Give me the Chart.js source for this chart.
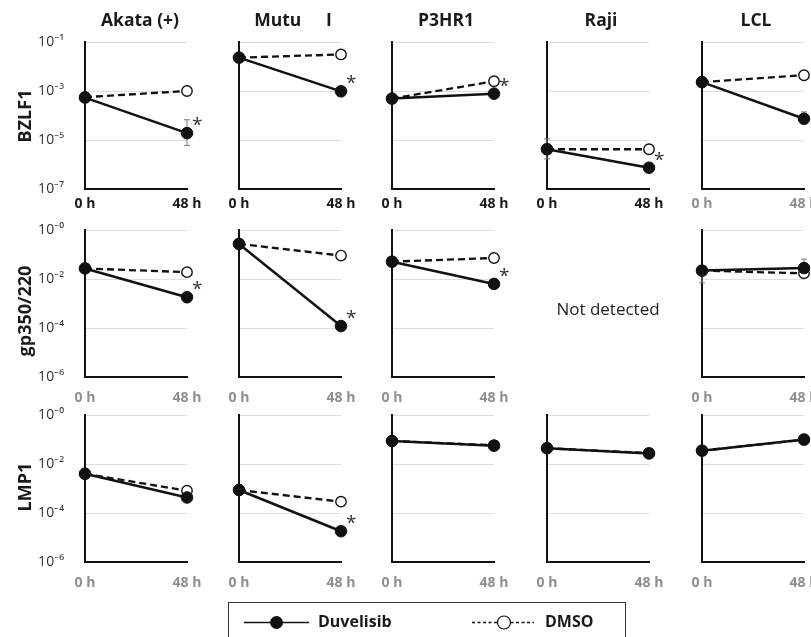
<!DOCTYPE html>
<html>
<head>
<meta charset="utf-8">
<script src="https://cdn.jsdelivr.net/npm/chart.js@4.4.0/dist/chart.umd.min.js"></script>
<style>
  body { margin: 0; width: 811px; height: 637px; overflow: hidden; background: #fff; position: relative;
         font-family: 'Open Sans', 'Noto Sans', sans-serif; color: #1a1a1a; }
  canvas { position: absolute; }
  .title { position: absolute; top: 8px; font-weight: 700; font-size: 17.5px; line-height: 22px;
           transform: translateX(-50%); white-space: nowrap; }
  .rowlab { position: absolute; font-weight: 700; font-size: 18px; line-height: 22px; white-space: nowrap;
            transform: translate(-50%, -50%) rotate(-90deg); }
  .nd { position: absolute; font-size: 17px; transform: translate(-50%, -50%); white-space: nowrap; color: #222; }
  .legend { position: absolute; left: 228px; top: 602px; width: 398px; height: 50px;
            border: 1.5px solid #333; box-sizing: border-box; }
  .legend svg { position: absolute; left: 0; top: 0; }
  .legend span { position: absolute; top: 7px; font-weight: 700; font-size: 16px; line-height: 22px; }
</style>
</head>
<body>
<script>
// panels: columns are cell lines, rows are genes
const cellLines = ['Akata (+)', 'Mutu I', 'P3HR1', 'Raji', 'LCL'];
const genes = ['BZLF1', 'gp350/220', 'LMP1'];
const timeLabels = ['0 h', '48 h'];
const seriesNames = ['Duvelisib', 'DMSO'];

const bzlf1Ticks = [1e-7, 1e-5, 1e-3, 1e-1];
const bzlf1TickLabels = ['10⁻⁷', '10⁻⁵', '10⁻³', '10⁻¹'];
const otherTicks = [1e-6, 1e-4, 1e-2, 1];
const otherTickLabels = ['10⁻⁶', '10⁻⁴', '10⁻²', '10⁻⁰'];

// [0 h, 48 h] per cell line
const bzlf1Duvelisib = [[5.4e-4, 1.9e-5], [2.3e-2, 9.7e-4], [4.9e-4, 7.8e-4], [4.2e-6, 7.4e-7], [2.3e-3, 7.4e-5]];
const bzlf1Dmso      = [[5.6e-4, 1.0e-3], [2.3e-2, 3.1e-2], [4.9e-4, 2.5e-3], [4.2e-6, 4.2e-6], [2.3e-3, 4.4e-3]];
const gp350Duvelisib = [[0.027, 1.8e-3], [0.27, 1.2e-4], [0.051, 6.3e-3], null, [0.022, 0.028]];
const gp350Dmso      = [[0.027, 0.019], [0.27, 0.09], [0.051, 0.072], null, [0.022, 0.017]];
const lmp1Duvelisib  = [[4.0e-3, 4.3e-4], [8.7e-4, 1.8e-5], [0.087, 0.056], [0.044, 0.027], [0.035, 0.10]];
const lmp1Dmso       = [[4.0e-3, 8.1e-4], [8.7e-4, 2.9e-4], [0.087, 0.058], [0.044, 0.028], [0.035, 0.098]];

// error ranges [low, high] per time point, null = none visible
const bzlf1DuvelisibErr = [[null, [6e-6, 6.7e-5]], [null, null], [null, null], [[1.7e-6, 1.1e-5], null], [null, [4.5e-5, 1.4e-4]]];
const gp350DuvelisibErr = [[null, [1.1e-3, 2.7e-3]], [null, null], [null, null], null, [null, [0.02, 0.065]]];
const gp350DmsoErr      = [[null, null], [null, null], [null, null], null, [[0.007, 0.03], null]];

// significance star on the 48 h Duvelisib point
const bzlf1Sig = [true, true, true, true, false];
const gp350Sig = [true, true, true, false, false];
const lmp1Sig  = [false, true, false, false, false];

const rows = [
  { duv: bzlf1Duvelisib, dmso: bzlf1Dmso, duvErr: bzlf1DuvelisibErr, dmsoErr: null, sig: bzlf1Sig, ticks: bzlf1Ticks, tickLabels: bzlf1TickLabels },
  { duv: gp350Duvelisib, dmso: gp350Dmso, duvErr: gp350DuvelisibErr, dmsoErr: gp350DmsoErr, sig: gp350Sig, ticks: otherTicks, tickLabels: otherTickLabels },
  { duv: lmp1Duvelisib, dmso: lmp1Dmso, duvErr: null, dmsoErr: null, sig: lmp1Sig, ticks: otherTicks, tickLabels: otherTickLabels },
];

// layout of the grid
const colAxisX = [85, 239, 392, 547, 702];
const rowTop = [42, 230, 415];
const xLabelPad = [7, 13, 13];
const plotW = 102, plotH = 147;
const padLeft = 60, padTop = 12, padRight = 16, xAxisH = 30;

function makeMarks(duvErr, dmsoErr, sig) {
  return {
    id: 'marks',
    beforeDatasetsDraw(chart) {
      const ctx = chart.ctx, xs = chart.scales.x, ys = chart.scales.y;
      ctx.save();
      ctx.strokeStyle = '#7a7a7a';
      ctx.lineWidth = 1;
      [duvErr, dmsoErr].forEach(errs => {
        if (!errs) return;
        errs.forEach((e, i) => {
          if (!e) return;
          const x = xs.getPixelForValue(i);
          const y1 = ys.getPixelForValue(e[0]), y2 = ys.getPixelForValue(e[1]);
          ctx.beginPath();
          ctx.moveTo(x, y1); ctx.lineTo(x, y2);
          ctx.moveTo(x - 3, y1); ctx.lineTo(x + 3, y1);
          ctx.moveTo(x - 3, y2); ctx.lineTo(x + 3, y2);
          ctx.stroke();
        });
      });
      ctx.restore();
    },
    afterDatasetsDraw(chart) {
      if (!sig) return;
      const ctx = chart.ctx;
      const pt = chart.getDatasetMeta(0).data[1];
      ctx.save();
      ctx.fillStyle = '#333';
      ctx.font = '19px "Open Sans", sans-serif';
      ctx.textAlign = 'left';
      ctx.textBaseline = 'top';
      ctx.fillText('*', pt.x + 5, pt.y - 17);
      ctx.restore();
    }
  };
}

function xTickColor(r, c) {
  return (r === 0 && c < 4) ? '#1a1a1a' : '#8f8f8f';
}

rows.forEach((row, r) => {
  cellLines.forEach((name, c) => {
    if (!row.duv[c]) return;
    const cv = document.createElement('canvas');
    const w = padLeft + plotW + padRight, h = padTop + plotH + xAxisH + 8;
    cv.width = w; cv.height = h;
    cv.style.left = (colAxisX[c] - padLeft) + 'px';
    cv.style.top = (rowTop[r] - padTop) + 'px';
    cv.style.width = w + 'px'; cv.style.height = h + 'px';
    document.body.appendChild(cv);

    new Chart(cv.getContext('2d'), {
      type: 'line',
      data: {
        labels: timeLabels,
        datasets: [
          {
            label: seriesNames[0],
            data: row.duv[c],
            borderColor: '#111',
            borderWidth: 2.5,
            pointRadius: 5.8,
            pointBackgroundColor: '#111',
            pointBorderColor: '#111',
            pointBorderWidth: 1,
            tension: 0,
            clip: false,
            order: 0
          },
          {
            label: seriesNames[1],
            data: row.dmso[c],
            borderColor: '#111',
            borderWidth: 2.3,
            borderDash: [7, 4],
            pointRadius: 5.2,
            pointBackgroundColor: '#fff',
            pointBorderColor: '#111',
            pointBorderWidth: 1.4,
            tension: 0,
            clip: false,
            order: 1
          }
        ]
      },
      plugins: [makeMarks(row.duvErr ? row.duvErr[c] : null, row.dmsoErr ? row.dmsoErr[c] : null, row.sig[c])],
      options: {
        responsive: false,
        animation: false,
        events: [],
        devicePixelRatio: 1,
        layout: { padding: { left: 0, top: padTop, right: padRight, bottom: 8 } },
        plugins: { legend: { display: false }, tooltip: { enabled: false } },
        scales: {
          x: {
            type: 'category',
            offset: false,
            grid: { display: false, drawTicks: false },
            border: { display: true, color: '#111', width: 2 },
            ticks: {
              padding: xLabelPad[r],
              maxRotation: 0,
              autoSkip: false,
              color: xTickColor(r, c),
              font: { family: "'Open Sans', sans-serif", size: 14, weight: 'bold' }
            },
            afterFit: s => { s.height = xAxisH; s.paddingLeft = 0; s.paddingRight = 0; }
          },
          y: {
            type: 'logarithmic',
            min: row.ticks[0],
            max: row.ticks[row.ticks.length - 1],
            grid: { color: '#dedede', lineWidth: 1, drawTicks: false },
            border: { display: true, color: '#111', width: 2 },
            afterBuildTicks: s => { s.ticks = row.ticks.map(v => ({ value: v })); },
            ticks: {
              display: c === 0,
              autoSkip: false,
              padding: 21,
              color: '#333',
              font: { family: "'Open Sans', sans-serif", size: 14 },
              callback: v => row.tickLabels[row.ticks.indexOf(v)]
            },
            afterFit: s => { s.width = padLeft; s.paddingTop = 0; s.paddingBottom = 0; }
          }
        }
      }
    });
  });
});

// column titles
cellLines.forEach((name, c) => {
  const d = document.createElement('div');
  d.className = 'title';
  d.textContent = name;
  d.style.left = (colAxisX[c] + plotW / 2 + (c === 0 ? 4 : 3)) + 'px';
  if (c === 1) d.style.wordSpacing = '20px';
  document.body.appendChild(d);
});

// row labels
const rowLabelY = [116, 311, 487];
genes.forEach((g, r) => {
  const d = document.createElement('div');
  d.className = 'rowlab';
  d.textContent = g;
  d.style.left = '24px';
  d.style.top = rowLabelY[r] + 'px';
  document.body.appendChild(d);
});

// missing panel
const nd = document.createElement('div');
nd.className = 'nd';
nd.textContent = 'Not detected';
nd.style.left = '608px';
nd.style.top = '308px';
document.body.appendChild(nd);

// legend
const lg = document.createElement('div');
lg.className = 'legend';
lg.innerHTML =
  '<svg width="398" height="50">' +
  '<line x1="15" y1="19.5" x2="80" y2="19.5" stroke="#111" stroke-width="1.5"/>' +
  '<circle cx="47.5" cy="19.5" r="6.5" fill="#111"/>' +
  '<line x1="243" y1="19.5" x2="305" y2="19.5" stroke="#111" stroke-width="1.3" stroke-dasharray="3,2.5"/>' +
  '<circle cx="275" cy="19.5" r="6.5" fill="#fff" stroke="#111" stroke-width="1.2"/>' +
  '</svg>' +
  '<span style="left:89px">' + seriesNames[0] + '</span>' +
  '<span style="left:316px">' + seriesNames[1] + '</span>';
document.body.appendChild(lg);
</script>
</body>
</html>
